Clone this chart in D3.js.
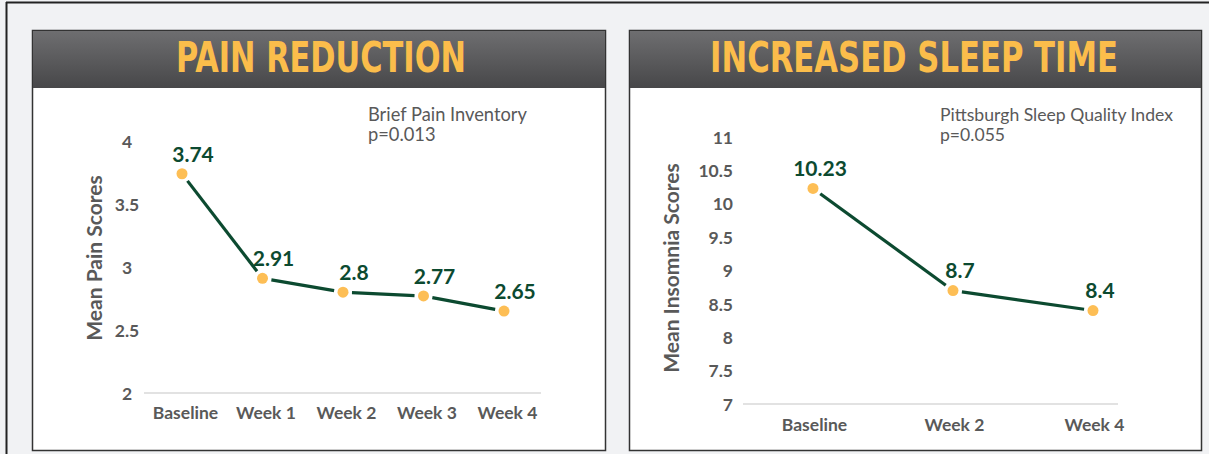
<!DOCTYPE html>
<html>
<head>
<meta charset="utf-8">
<script src="https://cdn.jsdelivr.net/npm/d3@7"></script>
<style>
  html, body { margin: 0; padding: 0; background: #f1f2f4; }
  svg { display: block; }
</style>
</head>
<body>
<svg id="chart" width="1209" height="454"></svg>
<script>
// ---- data ----
const painCategories = ["Baseline", "Week 1", "Week 2", "Week 3", "Week 4"];
const painValues = [3.74, 2.91, 2.8, 2.77, 2.65];
const painTicks = [2, 2.5, 3, 3.5, 4];
const painTickLabels = ["2", "2.5", "3", "3.5", "4"];
const painTitle = "PAIN REDUCTION";
const painYTitle = "Mean Pain Scores";
const painNote = ["Brief Pain Inventory", "p=0.013"];

const sleepCategories = ["Baseline", "Week 2", "Week 4"];
const sleepValues = [10.23, 8.7, 8.4];
const sleepTicks = [7, 7.5, 8, 8.5, 9, 9.5, 10, 10.5, 11];
const sleepTickLabels = ["7", "7.5", "8", "8.5", "9", "9.5", "10", "10.5", "11"];
const sleepTitle = "INCREASED SLEEP TIME";
const sleepYTitle = "Mean Insomnia Scores";
const sleepNote = ["Pittsburgh Sleep Quality Index", "p=0.055"];

// ---- drawing ----
const svg = d3.select("#chart");
const defs = svg.append("defs");
const grad = defs.append("linearGradient").attr("id", "hdr").attr("x1", 0).attr("y1", 0).attr("x2", 0).attr("y2", 1);
grad.append("stop").attr("offset", "0%").attr("stop-color", "#6e6e70");
grad.append("stop").attr("offset", "100%").attr("stop-color", "#474749");

svg.append("line").attr("x1", 6).attr("x2", 1209).attr("y1", 2.5).attr("y2", 2.5).attr("stroke", "#222").attr("stroke-width", 2);
svg.append("line").attr("x1", 6.5).attr("x2", 6.5).attr("y1", 2).attr("y2", 454).attr("stroke", "#222").attr("stroke-width", 2);

const TXT = "#595959";
const GREEN = "#0c4a30";
const GOLD = "#fdbe55";
const FONT = "Lato, 'Open Sans', sans-serif";

function panel(cfg) {
  const g = svg.append("g");
  g.append("rect").attr("x", cfg.x0 + 0.5).attr("y", 30.5).attr("width", cfg.x1 - cfg.x0).attr("height", 420)
    .attr("fill", "#fff").attr("stroke", "#333").attr("stroke-width", 1.5);
  g.append("rect").attr("x", cfg.x0 + 1).attr("y", 31).attr("width", cfg.x1 - cfg.x0 - 1).attr("height", 57)
    .attr("fill", "url(#hdr)");
  const tg = g.append("g").attr("transform", `translate(${cfg.titleX},72)`);
  const tt = tg.append("text").attr("x", 0).attr("y", 0)
    .attr("text-anchor", "middle")
    .attr("font-family", "'Liberation Sans Narrow', 'DejaVu Sans Condensed', 'Arial Narrow', sans-serif")
    .attr("font-weight", "bold").attr("font-size", 42)
    .attr("fill", "#fbbd4b")
    .text(cfg.title);
  const w = tt.node().getComputedTextLength();
  if (w > 0) tt.attr("transform", `scale(${cfg.titleW / w},1)`);

  const x = d3.scalePoint().domain(cfg.cats).range(cfg.xRange);
  const y = d3.scaleLinear().domain(d3.extent(cfg.ticks)).range(cfg.yRange);

  g.append("line").attr("x1", cfg.gridX[0]).attr("x2", cfg.gridX[1])
    .attr("y1", y(cfg.ticks[0])).attr("y2", y(cfg.ticks[0]))
    .attr("stroke", "#d9d9d9").attr("stroke-width", 1.5);

  const yAxis = d3.axisLeft(y).tickValues(cfg.ticks).tickFormat((d, i) => cfg.tickLabels[i]).tickSize(0).tickPadding(0);
  const ya = g.append("g").attr("transform", `translate(${cfg.yAxisX},0)`).call(yAxis);
  ya.select(".domain").remove();
  ya.selectAll("text").attr("font-family", FONT).attr("font-weight", "bold").attr("font-size", 17.5)
    .attr("fill", TXT).attr("text-anchor", cfg.yAnchor).attr("dy", "0.35em");

  const xAxis = d3.axisBottom(x).tickSize(0).tickPadding(0);
  const xa = g.append("g").attr("transform", `translate(${cfg.xLabelDx},${cfg.xLabelY})`).call(xAxis);
  xa.select(".domain").remove();
  xa.selectAll("text").attr("font-family", FONT).attr("font-weight", "bold").attr("font-size", 17.5)
    .attr("fill", TXT).attr("dy", "0.35em").attr("y", 0);

  g.append("text").attr("transform", `translate(${cfg.yTitleX},${cfg.yTitleY}) rotate(-90)`)
    .attr("text-anchor", "middle").attr("font-family", FONT).attr("font-weight", "bold")
    .attr("font-size", 21).attr("fill", TXT).attr("dy", "0.35em").text(cfg.yTitle);

  const note = g.append("text").attr("x", cfg.noteX).attr("y", 121)
    .attr("font-family", FONT).attr("font-size", cfg.noteSize).attr("fill", TXT);
  cfg.note.forEach((t, i) => note.append("tspan").attr("x", cfg.noteX).attr("dy", i ? 20 : 0).text(t));

  const pts = cfg.vals.map((v, i) => [x(cfg.cats[i]), y(v)]);
  const gap = 9;
  for (let i = 0; i < pts.length - 1; i++) {
    const [ax, ay] = pts[i], [bx, by] = pts[i + 1];
    const L = Math.hypot(bx - ax, by - ay), ux = (bx - ax) / L, uy = (by - ay) / L;
    g.append("line").attr("x1", ax + ux * gap).attr("y1", ay + uy * gap)
      .attr("x2", bx - ux * gap).attr("y2", by - uy * gap)
      .attr("stroke", GREEN).attr("stroke-width", 3.2).attr("stroke-linecap", "butt");
  }
  g.selectAll("circle.m").data(cfg.vals).join("circle")
    .attr("cx", (d, i) => x(cfg.cats[i])).attr("cy", d => y(d)).attr("r", 5.5).attr("fill", GOLD);

  g.selectAll("text.lbl").data(cfg.vals).join("text")
    .attr("x", (d, i) => x(cfg.cats[i]) + cfg.labelDx).attr("y", d => y(d) - 19.5)
    .attr("text-anchor", "middle").attr("dy", "0.35em")
    .attr("font-family", FONT).attr("font-weight", "bold").attr("font-size", 21)
    .attr("fill", GREEN).text(d => String(d));
}

panel({
  x0: 32, x1: 605, titleX: 321, titleW: 290, title: painTitle,
  cats: painCategories, vals: painValues, ticks: painTicks, tickLabels: painTickLabels,
  xRange: [182, 504], yRange: [393, 141], gridX: [144, 541],
  yAxisX: 127, yAnchor: "middle", xLabelDx: 3, xLabelY: 413,
  yTitleX: 95, yTitleY: 258, yTitle: painYTitle,
  noteX: 368, note: painNote, noteSize: 18.3, labelDx: 11
});

panel({
  x0: 629, x1: 1201, titleX: 914, titleW: 408, title: sleepTitle,
  cats: sleepCategories, vals: sleepValues, ticks: sleepTicks, tickLabels: sleepTickLabels,
  xRange: [813, 1093], yRange: [404, 137], gridX: [743, 1118],
  yAxisX: 733, yAnchor: "end", xLabelDx: 1, xLabelY: 425,
  yTitleX: 672, yTitleY: 268, yTitle: sleepYTitle,
  noteX: 940, note: sleepNote, noteSize: 17.6, labelDx: 7
});
</script>
</body>
</html>
